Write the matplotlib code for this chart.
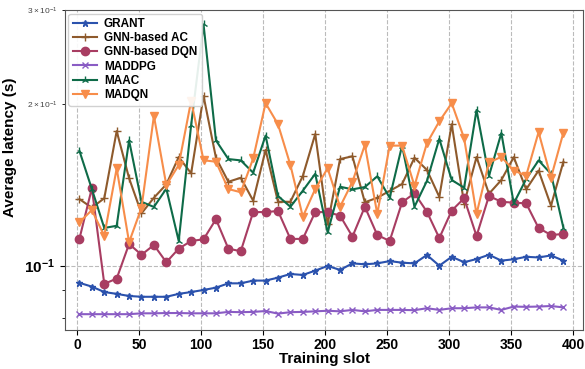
import numpy as np
import matplotlib
matplotlib.use("Agg")
import matplotlib.pyplot as plt

plt.rcParams['font.family'] = ['Liberation Sans', 'DejaVu Sans']

# training slots (one sample every 10 slots)
slots = np.arange(2, 400, 10)

grant = [0.0929, 0.0914, 0.0893, 0.0886, 0.0878, 0.0875, 0.0875, 0.0875, 0.0886, 0.0893,
         0.0901, 0.0910, 0.0927, 0.0927, 0.0938, 0.0938, 0.0950, 0.0965, 0.0961, 0.0979,
         0.0999, 0.0982, 0.1010, 0.1006, 0.1010, 0.1020, 0.1013, 0.1010, 0.1047, 0.1000,
         0.1039, 0.1015, 0.1029, 0.1048, 0.1022, 0.1028, 0.1039, 0.1036, 0.1045, 0.1022]

gnn_ac = [0.1331, 0.1283, 0.1336, 0.1783, 0.1456, 0.1252, 0.1339, 0.1418, 0.1595, 0.1487,
          0.2073, 0.1590, 0.1434, 0.1459, 0.1322, 0.1644, 0.1316, 0.1316, 0.1470, 0.1760,
          0.1194, 0.1581, 0.1600, 0.1313, 0.1339, 0.1379, 0.1420, 0.1590, 0.1509, 0.1344,
          0.1836, 0.1306, 0.1595, 0.1362, 0.1445, 0.1594, 0.1388, 0.1505, 0.1294, 0.1563]

gnn_dqn = [0.1123, 0.1395, 0.0925, 0.0946, 0.1098, 0.1048, 0.1093, 0.1015, 0.1076, 0.1112,
           0.1120, 0.1221, 0.1076, 0.1064, 0.1259, 0.1259, 0.1265, 0.1122, 0.1122, 0.1259,
           0.1259, 0.1240, 0.1133, 0.1288, 0.1141, 0.1112, 0.1313, 0.1365, 0.1261, 0.1126,
           0.1267, 0.1336, 0.1136, 0.1349, 0.1316, 0.1311, 0.1307, 0.1176, 0.1141, 0.1146]

maddpg = [0.0812, 0.0812, 0.0812, 0.0812, 0.0812, 0.0815, 0.0815, 0.0816, 0.0816, 0.0815,
          0.0815, 0.0815, 0.0820, 0.0819, 0.0820, 0.0823, 0.0814, 0.0819, 0.0820, 0.0822,
          0.0824, 0.0822, 0.0827, 0.0822, 0.0827, 0.0827, 0.0827, 0.0826, 0.0833, 0.0827,
          0.0833, 0.0833, 0.0836, 0.0836, 0.0827, 0.0839, 0.0838, 0.0839, 0.0841, 0.0836]

maac = [0.1637, 0.1390, 0.1176, 0.1187, 0.1713, 0.1316, 0.1287, 0.1392, 0.1112, 0.1829,
        0.2820, 0.1713, 0.1581, 0.1572, 0.1491, 0.1749, 0.1349, 0.1288, 0.1380, 0.1484,
        0.1154, 0.1404, 0.1388, 0.1402, 0.1468, 0.1339, 0.1675, 0.1288, 0.1439, 0.1725,
        0.1445, 0.1398, 0.1952, 0.1470, 0.1768, 0.1307, 0.1451, 0.1572, 0.1484, 0.1177]

madqn = [0.1205, 0.1270, 0.1137, 0.1519, 0.1106, 0.1283, 0.1903, 0.1414, 0.1541, 0.2030,
         0.1573, 0.1563, 0.1390, 0.1371, 0.1585, 0.2010, 0.1836, 0.1541, 0.1234, 0.1390,
         0.1519, 0.1288, 0.1434, 0.1680, 0.1249, 0.1675, 0.1675, 0.1409, 0.1692, 0.1859,
         0.2010, 0.1729, 0.1249, 0.1558, 0.1596, 0.1505, 0.1472, 0.1775, 0.1459, 0.1771]

fig = plt.figure(figsize=(5.85, 3.69), dpi=100)
ax = fig.add_axes([0.111, 0.106, 0.886, 0.867])

ax.plot(slots, grant, color='#2b52ad', marker='*', ms=5, lw=1.5, label='GRANT')
ax.plot(slots, gnn_ac, color='#8e5a2c', marker='+', ms=6, lw=1.5, label='GNN-based AC')
ax.plot(slots, gnn_dqn, color='#a83d62', marker='o', ms=6, lw=1.5, label='GNN-based DQN')
ax.plot(slots, maddpg, color='#8a5cc4', marker='x', ms=5, lw=1.5, label='MADDPG')
ax.plot(slots, maac, color='#0e6b48', marker='2', ms=6, lw=1.5, label='MAAC')
ax.plot(slots, madqn, color='#f78d4a', marker='v', ms=6, lw=1.5, label='MADQN')

ax.set_yscale('log')
ax.set_ylim(0.0759, 0.3)
ax.set_xlim(-9.7, 408)
ax.set_xticks(np.arange(0, 401, 50))
ax.grid(True, which='major', ls='--', color='#bbbbbb', lw=0.8)

ax.tick_params(axis='x', labelsize=10, pad=2)
for t in ax.get_xticklabels():
    t.set_fontweight('bold')
ax.tick_params(axis='y', which='major', labelsize=11)
ax.tick_params(axis='y', which='minor', labelsize=6, labelcolor='#444444')
for t in ax.get_yticklabels():
    t.set_fontweight('bold')

ax.set_xlabel('Training slot', fontsize=11, fontweight='bold', labelpad=0)
ax.set_ylabel('Average latency (s)', fontsize=11, fontweight='bold')
ax.yaxis.set_label_coords(-0.093, 0.57)

for s in ax.spines.values():
    s.set_color('#555555')

leg = ax.legend(loc='upper left', prop={'weight': 'bold', 'size': 8.5},
                handlelength=2.0, handletextpad=0.6, labelspacing=0.18,
                borderpad=0.4, borderaxespad=0.3, framealpha=0.9)

fig.savefig('out.png', dpi=100)
